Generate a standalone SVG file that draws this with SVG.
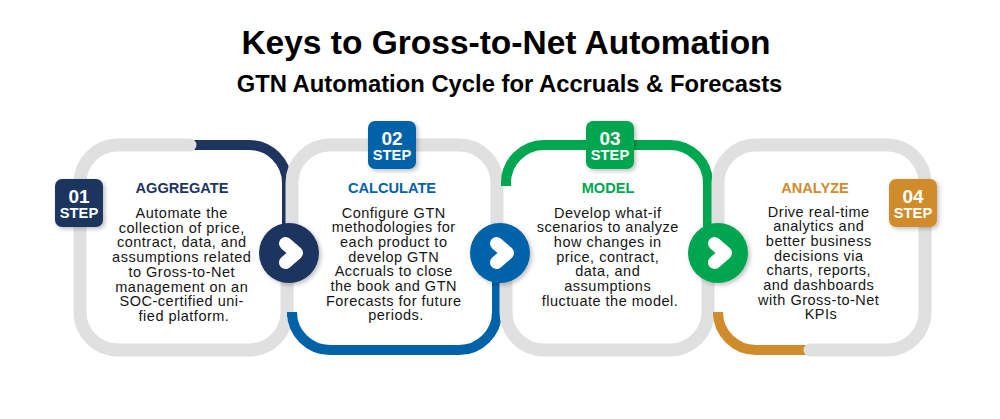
<svg xmlns="http://www.w3.org/2000/svg" width="1000" height="419" viewBox="0 0 1000 419">
<defs>
<style>
.g{fill:none;stroke:#dfe0df;stroke-width:13;stroke-linecap:round}
.c{fill:none;stroke-width:10;stroke-linecap:butt}
.t{font-family:"Liberation Sans",Arial,sans-serif;text-anchor:middle}
.title{font-size:33.5px;font-weight:bold;fill:#000}
.sub{font-size:23.8px;font-weight:bold;fill:#000}
.hd{font-size:14.6px;font-weight:bold}
.body{font-size:14.5px;letter-spacing:0.5px;fill:#151515}
.bn{font-size:19px;font-weight:bold;fill:#fff}
.bs{font-size:14.7px;font-weight:bold;fill:#fff}
.chev{fill:none;stroke:#fff;stroke-width:13;stroke-linecap:round;stroke-linejoin:round}
</style>
<filter id="sh" x="-30%" y="-30%" width="170%" height="170%">
<feDropShadow dx="2" dy="2" stdDeviation="2" flood-color="#000" flood-opacity="0.25"/>
</filter>
</defs>
<rect width="1000" height="419" fill="#fff"/>
<g id="title">
<text class="t title" x="506" y="54">Keys to Gross-to-Net Automation</text>
<text class="t sub" x="509.5" y="92">GTN Automation Cycle for Accruals &amp; Forecasts</text>
</g>
<g id="connectors">
<path class="c" stroke="#1d355f" d="M190,145 H249 A38,38 0 0 1 287,183 V253"/>
<path class="g" d="M190,145 H118 A38,38 0 0 0 80,183 V312 A38,38 0 0 0 118,350 H249 A38,38 0 0 0 287,312 V253"/>
<path class="c" stroke="#0062a8" d="M292,317 V312 A38,38 0 0 0 330,350 H459 A38,38 0 0 0 497,312 V253"/>
<path class="g" d="M292,253 V183 A38,38 0 0 1 330,145 H459 A38,38 0 0 1 497,183 V253"/>
<path class="c" stroke="#00a650" d="M506,186 V183 A38,38 0 0 1 544,145 H670 A38,38 0 0 1 708,183 V253"/>
<path class="g" d="M506,253 V312 A38,38 0 0 0 544,350 H670 A38,38 0 0 0 708,312 V253"/>
<path class="c" stroke="#d08b2c" d="M718,317 V312 A38,38 0 0 0 756,350 H812"/>
<path class="g" d="M810,350 H887 A38,38 0 0 0 925,312 V183 A38,38 0 0 0 887,145 H756 A38,38 0 0 0 718,183 V253"/>
<g id="arrow1" filter="url(#sh)">
<circle cx="289" cy="253" r="30" fill="#1d355f"/>
<polyline class="chev" points="285.5,243.5 296.5,253 285.5,262.5"/>
</g>
<g id="arrow2" filter="url(#sh)">
<circle cx="500" cy="253" r="30" fill="#0062a8"/>
<polyline class="chev" points="496.5,243.5 507.5,253 496.5,262.5"/>
</g>
<g id="arrow3" filter="url(#sh)">
<circle cx="718" cy="253" r="30" fill="#00a650"/>
<polyline class="chev" points="714.5,243.5 725.5,253 714.5,262.5"/>
</g>
</g>
<g id="step1">
<rect x="55" y="179" width="48" height="48" rx="7" fill="#1d355f" filter="url(#sh)"/>
<text class="t bn" x="79" y="202.5">01</text>
<text class="t bs" x="79" y="217.5">STEP</text>
<text class="t hd" x="182" y="193" fill="#1d355f">AGGREGATE</text>
<text class="t body" x="184" y="218">
<tspan x="184" dy="0">Automate the</tspan>
<tspan x="184" dy="14.7">collection of price,</tspan>
<tspan x="184" dy="14.7">contract, data, and</tspan>
<tspan x="184" dy="14.7">assumptions related</tspan>
<tspan x="184" dy="14.7">to Gross-to-Net</tspan>
<tspan x="184" dy="14.7">management on an</tspan>
<tspan x="184" dy="14.7">SOC-certified uni-</tspan>
<tspan x="184" dy="14.7">fied platform.</tspan>
</text>
</g>
<g id="step2">
<rect x="368" y="121" width="48" height="48" rx="7" fill="#0062a8" filter="url(#sh)"/>
<text class="t bn" x="392" y="144.5">02</text>
<text class="t bs" x="392" y="159.5">STEP</text>
<text class="t hd" x="392" y="193" fill="#0062a8">CALCULATE</text>
<text class="t body" x="396" y="217.5">
<tspan x="396" dy="0">Configure GTN</tspan>
<tspan x="396" dy="14.7">methodologies for</tspan>
<tspan x="396" dy="14.7">each product to</tspan>
<tspan x="396" dy="14.7">develop GTN</tspan>
<tspan x="396" dy="14.7">Accruals to close</tspan>
<tspan x="396" dy="14.7">the book and GTN</tspan>
<tspan x="396" dy="14.7">Forecasts for future</tspan>
<tspan x="396" dy="14.7">periods.</tspan>
</text>
</g>
<g id="step3">
<rect x="586" y="121" width="48" height="48" rx="7" fill="#00a650" filter="url(#sh)"/>
<text class="t bn" x="610" y="144.5">03</text>
<text class="t bs" x="610" y="159.5">STEP</text>
<text class="t hd" x="608" y="193" fill="#00a650">MODEL</text>
<text class="t body" x="610" y="217.5">
<tspan x="610" dy="0">Develop what-if</tspan>
<tspan x="610" dy="14.7">scenarios to analyze</tspan>
<tspan x="610" dy="14.7">how changes in</tspan>
<tspan x="610" dy="14.7">price, contract,</tspan>
<tspan x="610" dy="14.7">data, and</tspan>
<tspan x="610" dy="14.7">assumptions</tspan>
<tspan x="610" dy="14.7">fluctuate the model.</tspan>
</text>
</g>
<g id="step4">
<rect x="889" y="179" width="48" height="48" rx="7" fill="#d08b2c" filter="url(#sh)"/>
<text class="t bn" x="913" y="202.5">04</text>
<text class="t bs" x="913" y="217.5">STEP</text>
<text class="t hd" x="815" y="193" fill="#d08b2c">ANALYZE</text>
<text class="t body" x="821" y="216.5">
<tspan x="821" dy="0">Drive real-time</tspan>
<tspan x="821" dy="14.7">analytics and</tspan>
<tspan x="821" dy="14.7">better business</tspan>
<tspan x="821" dy="14.7">decisions via</tspan>
<tspan x="821" dy="14.7">charts, reports,</tspan>
<tspan x="821" dy="14.7">and dashboards</tspan>
<tspan x="821" dy="14.7">with Gross-to-Net</tspan>
<tspan x="821" dy="14.7">KPIs</tspan>
</text>
</g>
</svg>
